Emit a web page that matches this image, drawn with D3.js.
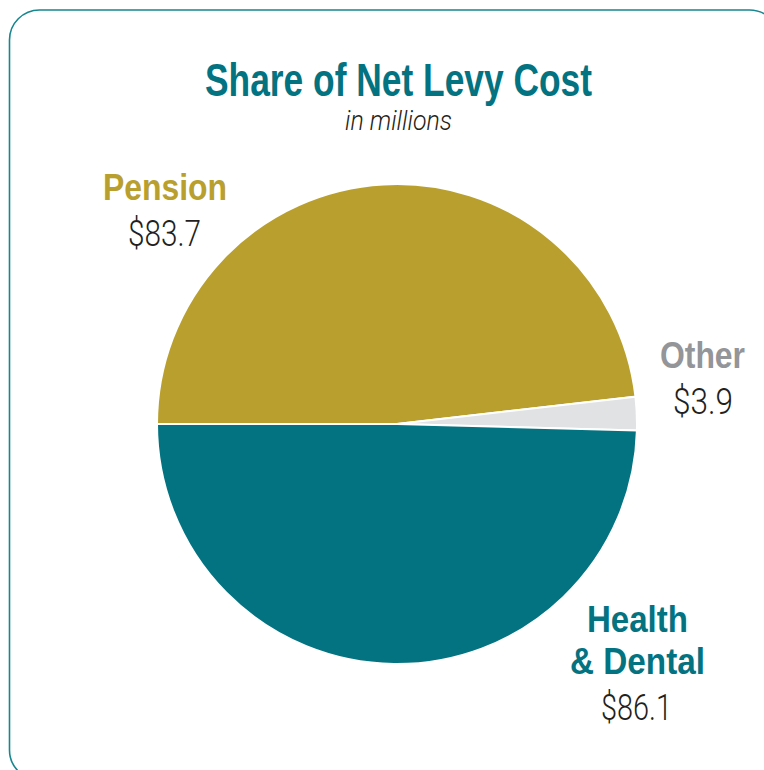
<!DOCTYPE html>
<html>
<head>
<meta charset="utf-8">
<script src="https://cdn.jsdelivr.net/npm/d3@7"></script>
<style>
  body { margin: 0; background: #fff; }
  svg { display: block; }
</style>
</head>
<body>
<svg id="chart"></svg>
<script>
const categories = ["Pension", "Other", "Health & Dental"];
const values = [83.7, 3.9, 86.1];
const valueLabels = ["$83.7", "$3.9", "$86.1"];
const colors = ["#b9a02e", "#e1e2e3", "#037381"];
const nameColors = ["#b9a02e", "#939598", "#037381"];

const width = 764;
const height = 770;
const cx = 397, cy = 424, radius = 240;
const boldFont = "'Liberation Sans', Arial, sans-serif";
const lightFont = "Roboto, 'Liberation Sans', sans-serif";

const svg = d3.select("#chart")
    .attr("width", width)
    .attr("height", height);

// frame
svg.append("rect")
    .attr("x", 9.5).attr("y", 10)
    .attr("width", 770).attr("height", 770)
    .attr("rx", 30)
    .attr("fill", "none")
    .attr("stroke", "#16868f")
    .attr("stroke-width", 1.6);

// squeezed text helper (the original uses a condensed face)
function label(x, y, str, opts) {
    return svg.append("text")
        .attr("x", x).attr("y", y)
        .attr("font-family", opts.font)
        .attr("font-weight", opts.weight || "normal")
        .attr("font-style", opts.style || "normal")
        .attr("font-size", opts.size)
        .attr("fill", opts.fill)
        .attr("textLength", opts.len)
        .attr("lengthAdjust", "spacingAndGlyphs")
        .text(str);
}

// title
label(205, 96, "Share of Net Levy Cost", { font: boldFont, weight: "bold", size: 46, fill: "#037381", len: 387 });
label(345, 130, "in millions", { font: lightFont, weight: 300, style: "italic", size: 27, fill: "#231f20", len: 107 });

// pie
const pie = d3.pie()
    .sort(null)
    .startAngle(-Math.PI / 2)
    .endAngle(3 * Math.PI / 2);

const arc = d3.arc().innerRadius(0).outerRadius(radius);

svg.append("g")
    .attr("transform", `translate(${cx},${cy})`)
    .selectAll("path")
    .data(pie(values))
    .join("path")
    .attr("d", arc)
    .attr("fill", (_, i) => colors[i])
    .attr("stroke", "#fff")
    .attr("stroke-width", 2);

// slice labels: name lines then value
const nameLines = [["Pension"], ["Other"], ["Health", "& Dental"]];
const nameX = [[103], [660], [587, 570]];
const nameLen = [[124], [85], [101, 135]];
const nameY = [200, 368, 632];
const valueX = [128, 673, 601];
const valueLen = [73, 60, 71];
const valueY = [246, 414, 720];

categories.forEach((c, i) => {
    nameLines[i].forEach((line, j) => {
        label(nameX[i][j], nameY[i] + j * 42, line,
            { font: boldFont, weight: "bold", size: 36, fill: nameColors[i], len: nameLen[i][j] });
    });
    label(valueX[i], valueY[i], valueLabels[i],
        { font: lightFont, weight: 300, size: 37, fill: "#231f20", len: valueLen[i] });
});
</script>
</body>
</html>
